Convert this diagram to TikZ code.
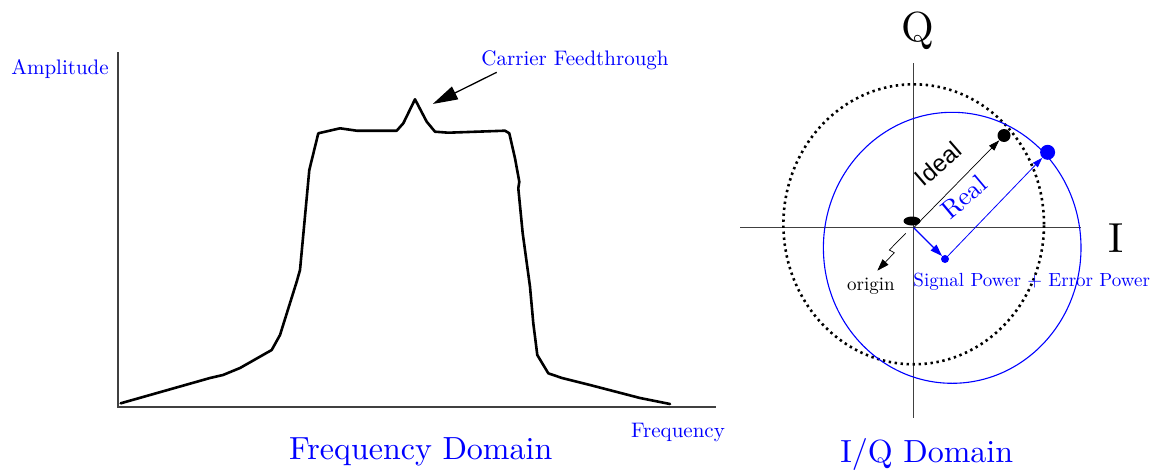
\documentclass[tikz,border=0pt]{standalone}
\usepackage{fontspec}
\setmainfont{lmroman10-regular}[Extension=.otf]
\newfontfamily\helv{Liberation Sans}
\usetikzlibrary{arrows.meta,shapes.geometric}
\definecolor{axisgray}{RGB}{64,64,64}
\tikzset{
  axis/.style={draw=axisgray,line width=1.8pt},
  lbl/.style={text=blue,inner sep=0pt},
  fs/.style={font=\fontsize{#1}{#1}\selectfont},
}
\begin{document}
\begin{tikzpicture}[x=1pt,y=-1pt]
\useasboundingbox (0,0) rectangle (1154,471);
% ---------- Frequency domain ----------
\coordinate (ytop) at (118,52);
\coordinate (o1) at (118,407);
\coordinate (xend) at (716,407);
\draw[axis] (ytop) -- (o1) -- (xend);
\draw[line width=2.6pt,line join=round,line cap=round]
 (120.7,403.3) -- (210,378) -- (223,375) -- (240,368) -- (271.7,350) -- (280,335) -- (296.7,281.7) -- (300,270) -- (309.3,170) -- (318.3,133.3) -- (340,128.3) -- (356.7,130.7) -- (396.7,130.7) -- (403.3,123.3) -- (415,99.3) -- (426.7,121.7) -- (435,131.7) -- (448.3,132.7) -- (505,130.7) -- (509.3,133.3) -- (515,158.3) -- (519.3,181.7) -- (518.3,188.3) -- (522.7,233.3) -- (530,286.7) -- (533.3,323.3) -- (537.3,355) -- (548.3,373.3) -- (562,378) -- (590,385) -- (640,398) -- (670,404);
\node[lbl,fs=21] (amp) at (60,69) {Amplitude};
\node[lbl,fs=21] (freq) at (678,433) {Frequency};
\node[lbl,fs=21] (carrier) at (575,60) {Carrier Feedthrough};
\coordinate (cstart) at (496.7,72.3);
\coordinate (ctip) at (432.7,104);
\draw[line width=1.3pt,-{Triangle[length=25pt,width=14pt]}] (cstart) -- (ctip);
\node[lbl,fs=32] (fd) at (420.7,452) {Frequency Domain};
% ---------- I/Q domain ----------
\coordinate (O) at (913.7,227.7);
\coordinate (xl) at (740,227.7);
\coordinate (xr) at (1081,227.7);
\coordinate (qt) at (913.7,63.3);
\coordinate (qb) at (913.7,418.3);
\draw[draw=axisgray,line width=1.5pt] (xl) -- (xr);
\draw[draw=axisgray,line width=1.5pt] (qt) -- (qb);
\node[fs=42,inner sep=0pt] (Q) at (918.3,31) {Q};
\node[fs=42,inner sep=0pt] (I) at (1115.7,238) {I};
% circles
\draw[line width=2.6pt,dash pattern=on 2.4pt off 3.6pt] (913.7,224.3) ellipse [x radius=130.3pt, y radius=140pt];
\draw[blue,line width=1.1pt] (952.2,247.8) ellipse [x radius=128.8pt, y radius=135.5pt];
% points
\node[ellipse,fill,minimum width=17pt,minimum height=9pt,inner sep=0pt] (oe) at (912,221) {};
\node[circle,fill,minimum size=13pt,inner sep=0pt] (ideal) at (1004,135.5) {};
\node[circle,fill=blue,minimum size=15pt,inner sep=0pt] (real) at (1047.6,152.3) {};
\node[circle,fill=blue,minimum size=8pt,inner sep=0pt] (err) at (945,259) {};
\draw[line width=0.7pt,-{Triangle[length=11pt,width=7pt]}] (O) -- (ideal);
\draw[blue,line width=1.3pt,-{Triangle[length=12pt,width=8pt]}] (O) -- (err);
\draw[blue,line width=0.8pt,-{Triangle[length=10pt,width=6.5pt]}] (err) -- (real);
\node[fs=24,rotate=41,inner sep=0pt] (idl) at (938,164) {\helv Ideal};
\node[lbl,fs=26,rotate=40] (rl) at (964,197) {Real};
% origin label
\coordinate (z0) at (905.7,233.3);
\coordinate (z1) at (889.3,250);
\coordinate (z2) at (894.3,252.7);
\coordinate (z3) at (877.3,270.7);
\draw[line width=0.7pt,-{Triangle[length=12pt,width=8pt]}] (z0) -- (z1) -- (z2) -- (z3);
\node[fs=19,inner sep=0pt] (orig) at (871,286.7) {origin};
\node[lbl,fs=19] (spe) at (1031.7,281.7) {Signal Power + Error Power};
\node[lbl,fs=32] (iq) at (926.7,454) {I/Q Domain};
\end{tikzpicture}
\end{document}
